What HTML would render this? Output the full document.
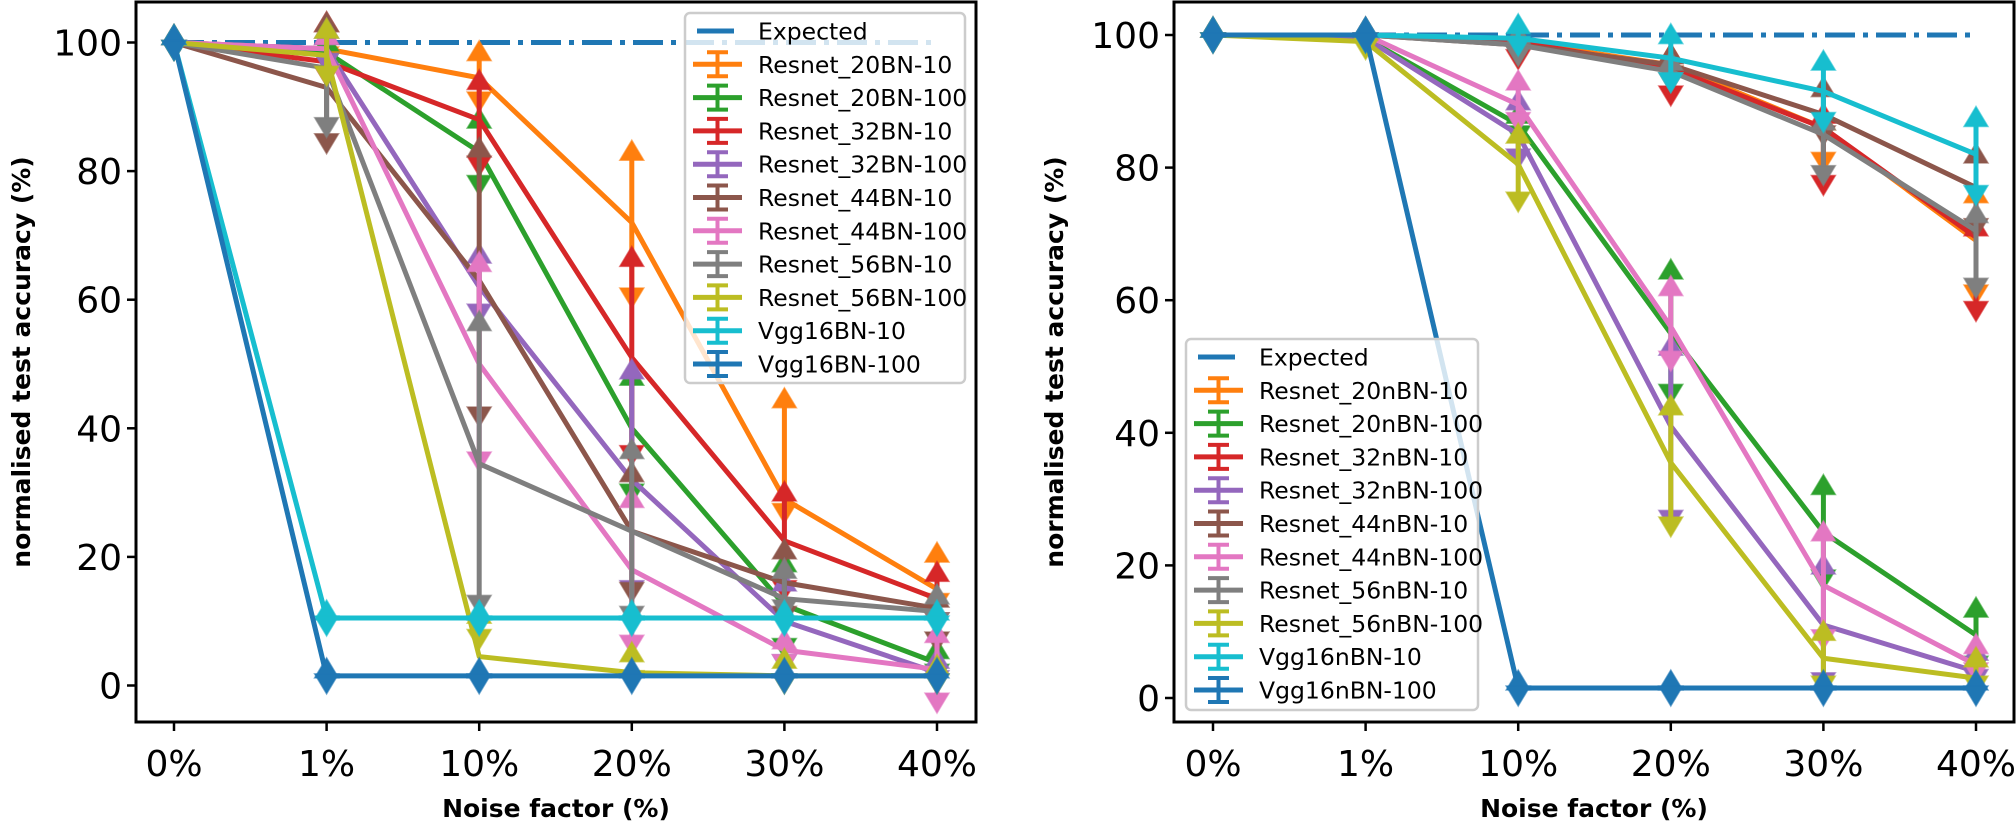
<!DOCTYPE html>
<html><head><meta charset="utf-8">
<style>
html,body{margin:0;padding:0;background:#fff;}
svg{display:block;font-family:"DejaVu Sans","Liberation Sans",sans-serif;}
</style></head>
<body>
<svg id="chart" width="2016" height="821" viewBox="0 0 2016 821" xmlns="http://www.w3.org/2000/svg"></svg>
<script>
const categories = ["0%","1%","10%","20%","30%","40%"];
const yTicks = [0,20,40,60,80,100];
const colors = ["#ff7f0e","#2ca02c","#d62728","#9467bd","#8c564b","#e377c2","#7f7f7f","#bcbd22","#17becf","#1f77b4"];

// Left panel (BN)
const leftNames = ["Resnet_20BN-10","Resnet_20BN-100","Resnet_32BN-10","Resnet_32BN-100","Resnet_44BN-10","Resnet_44BN-100","Resnet_56BN-10","Resnet_56BN-100","Vgg16BN-10","Vgg16BN-100"];
const L0 = [100,99,94.5,72,29,15];
const L0hi = [100,99,97.5,82,43.5,19.5];
const L0lo = [100,99,92,61.5,28,14];
const L1 = [100,98.5,83,40,12.5,3.5];
const L1hi = [100,99,87,47,18,4.5];
const L1lo = [100,98,79,31,7,3];
const L2 = [100,97,88,51,22.5,13.5];
const L2hi = [100,102,93,65.5,29,16.5];
const L2lo = [100,96,82,37,16,11];
const L3 = [100,99,62,32,10,2];
const L3hi = [100,100,66,48,15,3];
const L3lo = [100,98,59,16,4.5,2];
const L4 = [100,93,63,24,16,12];
const L4hi = [100,102,82.5,32,20,12.5];
const L4lo = [100,85.5,43,15.7,12,8];
const L5 = [100,99,50,18,5.5,2.5];
const L5hi = [100,100,64.7,28,6,7];
const L5lo = [100,96,36,7.5,4.5,-1.5];
const L6 = [100,96,34.5,24,13.5,11.5];
const L6hi = [100,101,55.5,35.6,17,13];
const L6lo = [100,88,13.7,12,13,11];
const L7 = [100,98,4.5,2,1.5,1.5];
const L7hi = [100,101,10,4,3,2];
const L7lo = [100,96,8.4,2,1.5,1.5];
const L8 = [100,10.5,10.5,10.5,10.5,10.5];
const L8hi = [100,10.5,10.5,10.5,10.5,10.5];
const L8lo = [100,10.5,10.5,10.5,10.5,10.5];
const L9 = [100,1.5,1.5,1.5,1.5,1.5];
const L9hi = [100,1.5,1.5,1.5,1.5,1.5];
const L9lo = [100,1.5,1.5,1.5,1.5,1.5];

// Right panel (nBN)
const rightNames = ["Resnet_20nBN-10","Resnet_20nBN-100","Resnet_32nBN-10","Resnet_32nBN-100","Resnet_44nBN-10","Resnet_44nBN-100","Resnet_56nBN-10","Resnet_56nBN-100","Vgg16nBN-10","Vgg16nBN-100"];
const R0 = [100,100,99,95.5,86,69];
const R0hi = [100,100,99,96,86,75];
const R0lo = [100,100,99,95,82,62];
const R1 = [100,99.5,86.5,55,25,9.5];
const R1hi = [100,100,87,63.5,31,12.5];
const R1lo = [100,99.5,86,47,19,6];
const R2 = [100,100,99,95,86,69.5];
const R2hi = [100,100,99,96,87,70];
const R2lo = [100,100,97.5,92,78.5,59.5];
const R3 = [100,99.5,85,41,11,4];
const R3hi = [100,100,89,52,19,6];
const R3lo = [100,99.5,82.5,28,3.5,4];
const R4 = [100,100,98.5,95.5,88,77];
const R4hi = [100,100,99,96,91,81];
const R4lo = [100,100,98,95,86,72];
const R5 = [100,100,89.5,56,17,5];
const R5hi = [100,100,92,61,24,7];
const R5lo = [100,100,88,52,10,5];
const R6 = [100,100,98.5,94.5,85,70.5];
const R6hi = [100,100,99,95,86,72];
const R6lo = [100,100,98,94,80,63];
const R7 = [100,99,80.5,35.5,6,3];
const R7hi = [100,99.5,84,43,9,5];
const R7lo = [100,99,76,27,3,3];
const R8 = [100,100,99.5,96.5,91.5,82];
const R8hi = [100,100,100.5,99,95,86.5];
const R8lo = [100,100,99.5,94,88,77];
const R9 = [100,100,1.5,1.5,1.5,1.5];
const R9hi = [100,100,1.5,1.5,1.5,1.5];
const R9lo = [100,100,1.5,1.5,1.5,1.5];
const expected = [100,100,100,100,100,100];

const leftMeans=[L0,L1,L2,L3,L4,L5,L6,L7,L8,L9], leftHi=[L0hi,L1hi,L2hi,L3hi,L4hi,L5hi,L6hi,L7hi,L8hi,L9hi], leftLo=[L0lo,L1lo,L2lo,L3lo,L4lo,L5lo,L6lo,L7lo,L8lo,L9lo];
const rightMeans=[R0,R1,R2,R3,R4,R5,R6,R7,R8,R9], rightHi=[R0hi,R1hi,R2hi,R3hi,R4hi,R5hi,R6hi,R7hi,R8hi,R9hi], rightLo=[R0lo,R1lo,R2lo,R3lo,R4lo,R5lo,R6lo,R7lo,R8lo,R9lo];

const NS="http://www.w3.org/2000/svg";
const svg=document.getElementById('chart');
function mk(tag,attrs,parent){const e=document.createElementNS(NS,tag);for(const k in attrs)e.setAttribute(k,attrs[k]);(parent||svg).appendChild(e);return e;}

function panel(p){
  const g=mk('g',{});
  
  
  const x=i=>p.x0+i*p.dx;
  const y=v=>p.y0-(v*p.sy);
  const cid='clip-'+p.id;
  const cp=mk('clipPath',{id:cid},g);
  mk('rect',{x:p.left,y:p.top,width:p.right-p.left,height:p.bottom-p.top},cp);
  const plot=mk('g',{'clip-path':'url(#'+cid+')'},g);
  const ex=mk('polyline',{points:expected.map((v,i)=>x(i)+','+y(v)).join(' '),fill:'none',stroke:'#1f77b4','stroke-width':5,'stroke-dasharray':'30 8 5 8'},plot);
  
  
  p.means.forEach((m,s)=>{
    const c=colors[s];
    const sg=mk('g',{},plot);
    
    
    mk('polyline',{points:m.map((v,i)=>x(i)+','+y(v)).join(' '),fill:'none',stroke:c,'stroke-width':5,'stroke-linejoin':'round'},sg);
    m.forEach((v,i)=>{
      const hi=p.hi[s][i], lo=p.lo[s][i], cx=x(i);
      mk('line',{x1:cx,x2:cx,y1:y(hi),y2:y(lo),stroke:c,'stroke-width':5},sg);
      const yh=y(hi), yl=y(lo);
      mk('polygon',{points:`${cx-12},${yh+2} ${cx+12},${yh+2} ${cx},${yh-18}`,fill:c,stroke:c,'stroke-width':1.5,'stroke-opacity':0.6},sg);
      mk('polygon',{points:`${cx-12},${yl-2} ${cx+12},${yl-2} ${cx},${yl+18}`,fill:c,stroke:c,'stroke-width':1.5,'stroke-opacity':0.6},sg);
    });
  });
  const fr=mk('rect',{x:p.left,y:p.top,width:p.right-p.left,height:p.bottom-p.top,fill:'none',stroke:'#000','stroke-width':3},g);
  
  
  yTicks.forEach(t=>{
    mk('line',{x1:p.left-9,x2:p.left,y1:y(t),y2:y(t),stroke:'#000','stroke-width':2.5},g);
    const tx=mk('text',{x:p.left-14,y:y(t)+13,'text-anchor':'end','font-size':36,fill:'#000'},g);
    tx.textContent=t;
    
    
  });
  categories.forEach((c,i)=>{
    mk('line',{x1:x(i),x2:x(i),y1:p.bottom,y2:p.bottom+9,stroke:'#000','stroke-width':2.5},g);
    const tx=mk('text',{x:x(i),y:776,'text-anchor':'middle','font-size':36,fill:'#000'},g);
    tx.textContent=c;
    
    
  });
  const xt=mk('text',{x:(p.left+p.right)/2,y:817,'text-anchor':'middle','font-size':25,'font-weight':'bold'},g);
  xt.textContent='Noise factor (%)';
  
  
  const yt=mk('text',{x:0,y:0,'text-anchor':'middle','font-size':25,'font-weight':'bold',transform:`translate(${p.ylabX},${(p.top+p.bottom)/2}) rotate(-90)`},g);
  yt.textContent='normalised test accuracy (%)';
  
  
  const L=p.leg;
  const lg=mk('g',{},g);
  
  
  mk('rect',{x:L.x,y:L.y,width:L.w,height:L.h,rx:5,fill:'rgba(255,255,255,0.8)',stroke:'#cccccc','stroke-width':2.5},lg);
  const rows=['Expected'].concat(p.names);
  rows.forEach((n,k)=>{
    const cy=L.y+18+k*33.3, hx=L.x+8;
    const e=mk('g',{},lg);
    
    
    if(k===0){
      mk('line',{x1:hx+4,x2:hx+41,y1:cy,y2:cy,stroke:'#1f77b4','stroke-width':5},e);
    } else {
      const c=colors[k-1];
      mk('line',{x1:hx,x2:hx+49,y1:cy,y2:cy,stroke:c,'stroke-width':5},e);
      mk('line',{x1:hx+24.5,x2:hx+24.5,y1:cy-12,y2:cy+12,stroke:c,'stroke-width':4},e);
      mk('line',{x1:hx+14,x2:hx+35,y1:cy-12,y2:cy-12,stroke:c,'stroke-width':4},e);
      mk('line',{x1:hx+14,x2:hx+35,y1:cy+12,y2:cy+12,stroke:c,'stroke-width':4},e);
    }
    const t=mk('text',{x:L.x+73,y:cy+8.5,'font-size':23.5,fill:'#000'},e);
    t.textContent=n;
  });
}

panel({id:'left',left:136,right:976,top:2,bottom:722,x0:174,dx:152.6,y0:685.5,sy:6.43,ylabX:30,
  names:leftNames,means:leftMeans,hi:leftHi,lo:leftLo,leg:{x:685,y:13,w:280,h:370}});
panel({id:'right',left:1174,right:2014,top:2,bottom:722,x0:1213,dx:152.6,y0:698,sy:6.63,ylabX:1063,
  names:rightNames,means:rightMeans,hi:rightHi,lo:rightLo,leg:{x:1186,y:339,w:292,h:371}});
</script>
</body></html>
